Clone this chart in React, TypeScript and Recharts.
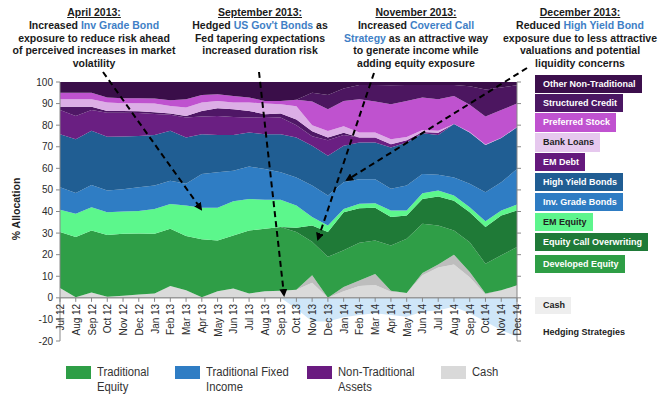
import React from 'react';
import { AreaChart, Area, XAxis, YAxis, ReferenceLine } from 'recharts';

const months = ['Jul 12','Aug 12','Sep 12','Oct 12','Nov 12','Dec 12','Jan 13','Feb 13','Mar 13','Apr 13','May 13','Jun 13','Jul 13','Aug 13','Sep 13','Oct 13','Nov 13','Dec 13','Jan 14','Feb 14','Mar 14','Apr 14','May 14','Jun 14','Jul 14','Aug 14','Sep 14','Oct 14','Nov 14','Dec 14'];

const hedging = [0,0,0,0,0,0,0,0,0,0,0,0,0,0,0,-5,-11,-11,-9,-8,-7.2,-8,-8.8,-6.5,-5.7,-4.1,-7.2,-11,-15,-18];
const cash = [4.5,0.3,2.5,0.5,1,1.5,2,5.5,3.5,0.3,3,4.3,2,3,3.3,3.8,7,0,3,5.5,6,2.8,2.2,10.5,14,15.5,9.5,1.5,3.5,5.8];
const cashHeld = [0,0,0,0,0,0,0,0,0,0,0,0,0,0,0,0,3.5,0,2,2.5,5,0.5,0,1,1.5,4.5,2.5,0.5,0,0];
const developedEquity = [26,27.9,28.7,28.6,28.7,28.3,27.7,26.5,25.1,26.8,23.6,24.6,29.2,29,29.5,26.7,15.5,19,17,17.5,15.6,21,25.2,22.8,18,11.2,13.8,13.8,16.2,17.7];
const callOverwriting = [0,0,0,0,0,0,0,0,0,0,0,0,0,0,0,2,7.5,11.5,17.7,16,15.1,13.1,10.8,11.5,13.4,13.8,13.9,17,18.5,17];
const emEquity = [10.3,10.7,10.8,10.6,10.3,10.4,11.5,11.5,14.2,14.6,15.1,15.9,14.6,13.4,12.6,10.3,4,3,1.5,2.1,2.1,3.1,2.3,2.7,2.8,2.4,2.3,2.7,2.3,2.7];
const invGrade = [10.4,9.7,10.3,10,10.3,11,10.8,10.8,10,15.7,16.5,14.1,15,14.3,12.8,13,14.5,13.9,12.3,11.4,11.2,10,11.5,8.9,7.3,8.4,10.8,13.4,13,16.5];
const highYield = [24.6,24.9,25.1,24.9,24.5,23.8,23.4,23.1,21.5,18.4,17.3,16.6,15.8,16.1,17.6,18.5,18.5,18.4,17,17,17,19.2,20,18.8,18.5,24.7,23.8,21.9,20.5,19.3];
const emDebt = [11.2,10.7,9.6,11.2,11,10.6,9.8,7.4,9.2,8.2,8.8,8.3,6.9,8,7.7,5.7,4.4,7.2,5,2.3,2.3,1.5,1,0.6,1,0,0,0,0,0];
const emDebtLocal = [1.5,4.3,1.5,0.8,0.8,0.8,0.8,0.6,0.8,2.6,3.5,3.6,3.1,1.3,1.9,2.6,2.3,1.3,1,0,0,0,0,0,0,0,0,0,0,0];
const bankLoans = [3.5,3.5,3.5,3.9,3.6,3.8,4,3.5,3.9,3.9,3.4,3.1,3.9,4.9,4.3,6.2,2.8,3,3,2.3,2.3,2.3,1.5,1,0.9,0,0.2,0.2,0.2,0.2];
const preferred = [3,3,3,2.3,2.3,2.3,2.3,2.6,3.8,3.5,3.1,3,2.3,1.2,1.5,3,11,10.1,11.7,15.4,14.4,16.2,16.7,15,14.6,13,12.7,13,12.8,10.8];
const structured = [0,0,0,0,0,0,0,0,0,0,0,0,0,0,0,0,4,6.6,5.8,6.6,7.6,8.8,7.4,5.8,6.6,5.1,8.5,12.5,10.5,8.5];
const otherNonTrad = [5,5,5,7.2,7.5,7.5,7.7,8.5,8,6,5.7,6.5,7.2,8.8,8.8,8.2,5,6,3,1.4,1.4,1.5,1.4,1.4,1.4,1.4,2,3.5,2.5,1.5];

const yTicks = [-20,-10,0,10,20,30,40,50,60,70,80,90,100];

const data = months.map((m, i) => ({
  month: m,
  hedging: hedging[i],
  cash: cash[i],
  cashHeld: cashHeld[i],
  developedEquity: developedEquity[i],
  callOverwriting: callOverwriting[i],
  emEquity: emEquity[i],
  invGrade: invGrade[i],
  highYield: highYield[i],
  emDebt: emDebt[i],
  emDebtLocal: emDebtLocal[i],
  bankLoans: bankLoans[i],
  preferred: preferred[i],
  structured: structured[i],
  otherNonTrad: otherNonTrad[i],
}));

const series = [
  { key: 'hedging', color: '#cfe6f8' },
  { key: 'cash', color: '#dadada' },
  { key: 'cashHeld', color: '#bdbdbd' },
  { key: 'developedEquity', color: '#2f9e47' },
  { key: 'callOverwriting', color: '#1f7a37' },
  { key: 'emEquity', color: '#5cf78c' },
  { key: 'invGrade', color: '#2f7dc4' },
  { key: 'highYield', color: '#205e93' },
  { key: 'emDebt', color: '#6a1f82' },
  { key: 'emDebtLocal', color: '#4f1766' },
  { key: 'bankLoans', color: '#dcaee6' },
  { key: 'preferred', color: '#bf52cf' },
  { key: 'structured', color: '#4c1660' },
  { key: 'otherNonTrad', color: '#3a0e49' },
];

const W = 670, H = 398;
const TOP = 82, BOTTOM = 56, LEFT = 30, RIGHT = 148;
const XAXIS_H = 1;
const PLOT_H = H - TOP - BOTTOM - XAXIS_H;
const ZERO_Y = TOP + PLOT_H * (100 / 120);
const FONT = '"Liberation Sans", Arial, sans-serif';
const BLUE = '#3f7fc6';

const renderMonthTick = (props: any) => {
  const { x, payload, index } = props;
  return (
    <g key={`mt-${index}`}>
      <line x1={x} x2={x} y1={ZERO_Y} y2={ZERO_Y + 4} stroke="#888" strokeWidth={1} />
      <text transform={`translate(${x + 4},${ZERO_Y + 6}) rotate(-90)`} textAnchor="end" fontSize={10} fill="#2a2a2a" fontFamily={FONT}>
        {payload.value}
      </text>
    </g>
  );
};

const rightLegend = [
  { label: 'Other Non-Traditional', bg: '#3c0f4c', fg: '#fff', top: 75, h: 18 },
  { label: 'Structured Credit', bg: '#4b1763', fg: '#fff', top: 94, h: 18 },
  { label: 'Preferred Stock', bg: '#c052d0', fg: '#fff', top: 113, h: 19 },
  { label: 'Bank Loans', bg: '#e6c8ee', fg: '#222', top: 133, h: 19 },
  { label: 'EM Debt', bg: '#65197d', fg: '#fff', top: 153, h: 18 },
  { label: 'High Yield Bonds', bg: '#205d93', fg: '#fff', top: 173, h: 18 },
  { label: 'Inv. Grade Bonds', bg: '#2e7cc3', fg: '#fff', top: 193, h: 18 },
  { label: 'EM Equity', bg: '#5df58d', fg: '#222', top: 213, h: 18 },
  { label: 'Equity Call Overwriting', bg: '#1f7a38', fg: '#fff', top: 233, h: 18 },
  { label: 'Developed Equity', bg: '#2e9e46', fg: '#fff', top: 255, h: 18 },
  { label: 'Cash', bg: '#eeeeee', fg: '#222', top: 297, h: 17 },
  { label: 'Hedging Strategies', bg: 'transparent', fg: '#222', top: 324, h: 17 },
];

const bottomLegend = [
  { lines: ['Traditional', 'Equity'], color: '#2e9e46', x: 66 },
  { lines: ['Traditional Fixed', 'Income'], color: '#2f7dc4', x: 175 },
  { lines: ['Non-Traditional', 'Assets'], color: '#6a1b80', x: 307 },
  { lines: ['Cash'], color: '#d9d9d9', x: 441 },
];

type Seg = { t: string; blue?: boolean; u?: boolean };
const notes: { cx: number; lines: Seg[][] }[] = [
  {
    cx: 94,
    lines: [
      [{ t: 'April 2013:', u: true }],
      [{ t: 'Increased ' }, { t: 'Inv Grade Bond', blue: true }],
      [{ t: 'exposure to reduce risk ahead' }],
      [{ t: 'of perceived increases in market' }],
      [{ t: 'volatility' }],
    ],
  },
  {
    cx: 260,
    lines: [
      [{ t: 'September 2013:', u: true }],
      [{ t: 'Hedged ' }, { t: "US Gov't Bonds", blue: true }, { t: ' as' }],
      [{ t: 'Fed tapering expectations' }],
      [{ t: 'increased duration risk' }],
    ],
  },
  {
    cx: 416,
    lines: [
      [{ t: 'November 2013:', u: true }],
      [{ t: 'Increased ' }, { t: 'Covered Call', blue: true }],
      [{ t: 'Strategy', blue: true }, { t: ' as an attractive way' }],
      [{ t: 'to generate income while' }],
      [{ t: 'adding equity exposure' }],
    ],
  },
  {
    cx: 580,
    lines: [
      [{ t: 'December 2013:', u: true }],
      [{ t: 'Reduced ' }, { t: 'High Yield Bond', blue: true }],
      [{ t: 'exposure due to less attractive' }],
      [{ t: 'valuations and potential' }],
      [{ t: 'liquidity concerns' }],
    ],
  },
];

const arrows = [
  { x1: 103, y1: 72, x2: 201, y2: 209 },
  { x1: 259, y1: 72, x2: 284, y2: 295 },
  { x1: 374, y1: 73, x2: 318, y2: 239 },
  { x1: 527, y1: 68, x2: 347, y2: 180 },
];

export default function App() {
  return (
    <div style={{ position: 'absolute', left: 0, top: 0, width: W, height: H, background: '#fff', fontFamily: FONT, overflow: 'hidden' }}>
      <AreaChart
        width={W}
        height={H}
        data={data}
        stackOffset="sign"
        margin={{ top: TOP, right: RIGHT, bottom: BOTTOM, left: LEFT }}
      >
        <YAxis
          yAxisId="left"
          type="number"
          domain={[-20, 100]}
          ticks={yTicks}
          allowDataOverflow
          width={30}
          tickSize={4}
          tickMargin={3}
          axisLine={{ stroke: '#888' }}
          tickLine={{ stroke: '#888' }}
          tick={{ fontSize: 10, fill: '#2a2a2a', fontFamily: FONT }}
        />
        <YAxis
          yAxisId="right"
          orientation="right"
          type="number"
          domain={[-20, 100]}
          ticks={yTicks}
          allowDataOverflow
          width={5}
          tickSize={4}
          axisLine={{ stroke: '#888' }}
          tickLine={{ stroke: '#888' }}
          tickFormatter={() => ''}
        />
        {series.map((s) => (
          <Area
            key={s.key}
            yAxisId="left"
            type="linear"
            dataKey={s.key}
            stackId="a"
            stroke="none"
            fill={s.color}
            fillOpacity={1}
            isAnimationActive={false}
            dot={false}
            activeDot={false}
          />
        ))}
        <ReferenceLine yAxisId="left" y={0} stroke="#999" strokeWidth={1.5} />
        <XAxis dataKey="month" interval={0} axisLine={false} tickLine={false} height={XAXIS_H} tick={renderMonthTick} />
      </AreaChart>

      <svg width={W} height={H} style={{ position: 'absolute', left: 0, top: 0, pointerEvents: 'none' }}>
        <defs>
          <marker id="ah" markerWidth="8" markerHeight="8" refX="6" refY="4" orient="auto" markerUnits="userSpaceOnUse">
            <path d="M0,0 L8,4 L0,8 Z" fill="#000" />
          </marker>
        </defs>
        {arrows.map((a, i) => (
          <line key={i} x1={a.x1} y1={a.y1} x2={a.x2} y2={a.y2} stroke="#000" strokeWidth={2} strokeDasharray="6 4" markerEnd="url(#ah)" />
        ))}
        <text transform="translate(20,209) rotate(-90)" textAnchor="middle" fontSize={10.5} fontWeight="bold" fill="#222" fontFamily={FONT}>
          % Allocation
        </text>
      </svg>

      {notes.map((n, i) => (
        <div
          key={i}
          style={{ position: 'absolute', left: n.cx - 95, top: 6, width: 190, textAlign: 'center', fontSize: 10.5, lineHeight: '12.8px', fontWeight: 'bold', color: '#1a1a1a' }}
        >
          {n.lines.map((ln, j) => (
            <div key={j}>
              {ln.map((s, k) => (
                <span key={k} style={{ color: s.blue ? BLUE : undefined, textDecoration: s.u ? 'underline' : undefined }}>{s.t}</span>
              ))}
            </div>
          ))}
        </div>
      ))}

      {rightLegend.map((r, i) => (
        <div
          key={i}
          style={{ position: 'absolute', left: 535, top: r.top, height: r.h, background: r.bg, color: r.fg, fontSize: 9, fontWeight: 'bold', lineHeight: `${r.h}px`, padding: '0 6px 0 8px', boxSizing: 'border-box', whiteSpace: 'nowrap' }}
        >
          {r.label}
        </div>
      ))}

      {bottomLegend.map((b, i) => (
        <div key={i} style={{ position: 'absolute', left: b.x, top: 366 }}>
          <div style={{ position: 'absolute', left: 0, top: 0, width: 25, height: 13, background: b.color }} />
          <div style={{ position: 'absolute', left: 31, top: -1, whiteSpace: 'nowrap', fontFamily: FONT, fontSize: 12.5, lineHeight: '15px', color: '#333', transform: 'scaleX(0.9)', transformOrigin: 'left top' }}>
            {b.lines.map((l, j) => (
              <div key={j}>{l}</div>
            ))}
          </div>
        </div>
      ))}
    </div>
  );
}
